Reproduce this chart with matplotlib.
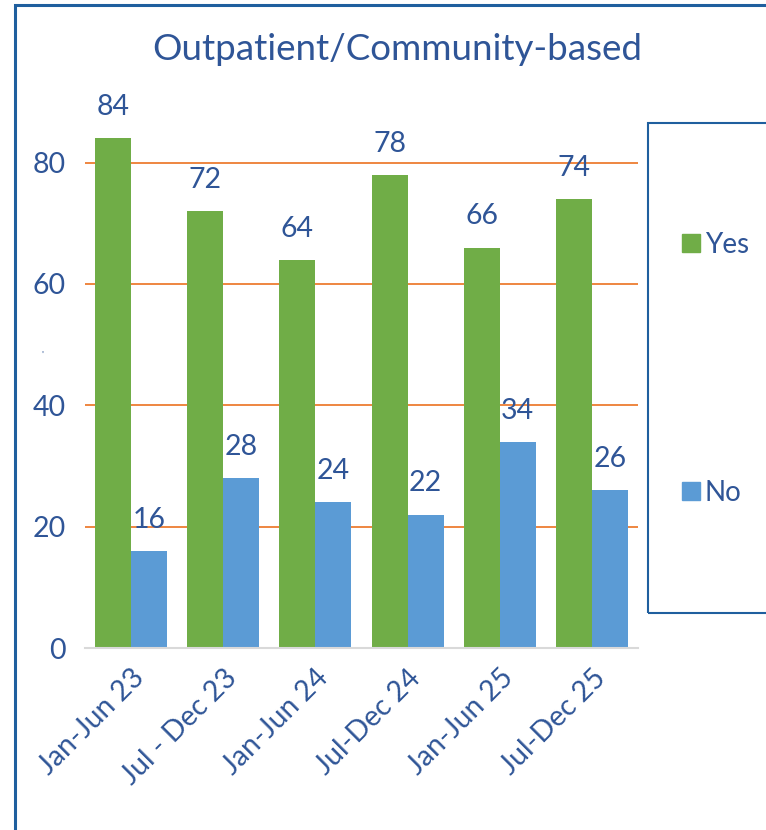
import matplotlib
matplotlib.use("Agg")
import matplotlib.pyplot as plt
import numpy as np
from matplotlib.patches import Rectangle
from matplotlib.lines import Line2D

categories = ["Jan-Jun 23", "Jul - Dec 23", "Jan-Jun 24", "Jul-Dec 24", "Jan-Jun 25", "Jul-Dec 25"]
yes_values = [84, 72, 64, 78, 66, 74]
no_values = [16, 28, 24, 22, 34, 26]
series_names = ["Yes", "No"]
title = "Outpatient/Community-based"

GREEN = "#70AD47"
BLUE = "#5B9BD5"
ORANGE = "#ED7D31"
TEXT = "#2F5597"
FRAME = "#1F5F9E"

plt.rcParams['font.family'] = ['Lato', 'DejaVu Sans']

W, H = 766, 830
fig = plt.figure(figsize=(W / 100, H / 100), dpi=100)
ax = fig.add_axes([85 / W, 1 - 648 / H, (638 - 85) / W, (648 - 102) / H])

x = np.arange(len(categories))
bw = 0.39
b1 = ax.bar(x - bw / 2, yes_values, bw, color=GREEN, zorder=3, label=series_names[0])
b2 = ax.bar(x + bw / 2, no_values, bw, color=BLUE, zorder=3, label=series_names[1])

for bars, vals in ((b1, yes_values), (b2, no_values)):
    for r, v in zip(bars, vals):
        ax.text(r.get_x() + r.get_width() / 2, v + 3.0, str(v), ha='center', va='bottom',
                fontsize=20.5, color=TEXT, clip_on=False)

ax.set_xlim(-0.5, len(categories) - 0.5)
ax.set_ylim(0, 90)
ax.set_yticks([0, 20, 40, 60, 80])
for yv in [20, 40, 60, 80]:
    ax.axhline(yv, color=ORANGE, lw=1.3, zorder=1)
ax.set_xticks(x)
ax.set_xticklabels(categories, rotation=45, ha='right', rotation_mode='anchor')
ax.tick_params(axis='both', length=0, labelsize=20.5, colors=TEXT)
ax.tick_params(axis='y', pad=14)
ax.tick_params(axis='x', pad=12)
for s in ['top', 'right', 'left']:
    ax.spines[s].set_visible(False)
ax.spines['bottom'].set_color('#D9D9D9')
ax.spines['bottom'].set_linewidth(1.5)
ax.spines['bottom'].set_zorder(4)

# tiny axis-title mark seen in the reference
fig.text(42 / W, 1 - 355 / H, "'", fontsize=7, color=TEXT, ha='center', va='center')

fig.text((150 + 644) / 2 / W, 1 - 50 / H, title, ha='center', va='center', fontsize=26.5, color=TEXT)

# legend
handles = [Line2D([], [], marker='s', linestyle='none', markersize=13, color=GREEN),
           Line2D([], [], marker='s', linestyle='none', markersize=13, color=BLUE)]
leg = fig.legend(handles, series_names, loc='center left', bbox_to_anchor=(666 / W, 1 - 369 / H),
                 frameon=False, fontsize=20, labelcolor=TEXT, handlelength=0.8,
                 handletextpad=0.1, labelspacing=8.0, borderpad=0)

# legend frame
fig.add_artist(Rectangle((648 / W, 1 - 613 / H), 0.5, (613 - 123) / H, transform=fig.transFigure,
                         fill=False, edgecolor=FRAME, lw=1.5, clip_on=False))
# figure border
fig.add_artist(Rectangle((15 / W, -0.2), 1.0, 1.2 - 5 / H, transform=fig.transFigure,
                         fill=False, edgecolor=FRAME, lw=2.2, clip_on=False))

fig.savefig("out.png", dpi=100)
